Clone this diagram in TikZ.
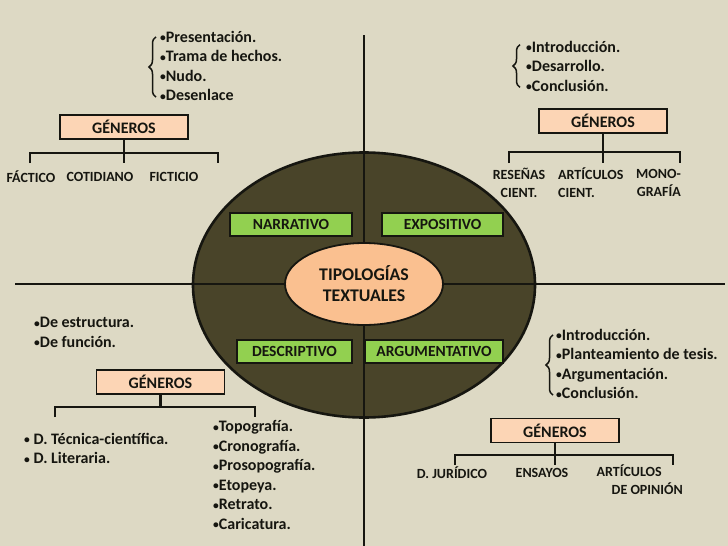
\documentclass[tikz,border=0pt]{standalone}
\usepackage{fontspec}
\setmainfont{Carlito}
\usetikzlibrary{shapes.geometric,decorations.pathreplacing}
\definecolor{bgtan}{RGB}{221,217,196}
\definecolor{darkolive}{RGB}{73,68,41}
\definecolor{peach}{RGB}{250,192,144}
\definecolor{lightpeach}{RGB}{252,213,181}
\definecolor{leafgreen}{RGB}{146,208,80}
\definecolor{inkdark}{RGB}{22,22,16}
\newcommand{\vin}{\raisebox{0.6pt}{\scalebox{0.72}{•}}}

\begin{document}
\begin{tikzpicture}[x=1pt, y=-1pt, every node/.style={text=inkdark},
  genbox/.style={draw=inkdark, fill=lightpeach, line width=1.2pt, minimum width=128pt, minimum height=24pt, inner sep=0pt, font=\bfseries\fontsize{16}{18}\selectfont},
  tipobox/.style={draw=inkdark, fill=leafgreen, line width=1.2pt, minimum height=23pt, inner sep=0pt, font=\bfseries\fontsize{15.5}{17}\selectfont},
  lista/.style={anchor=west, align=left, inner sep=0pt, font=\bfseries\fontsize{16}{19.5}\selectfont},
  hoja/.style={inner sep=0pt, font=\bfseries\fontsize{14}{18}\selectfont},
  rama/.style={line width=2.6pt, draw=inkdark},
  llave/.style={decorate, decoration={brace, amplitude=7pt}, line width=1.5pt, draw=inkdark},
  eje/.style={line width=2.2pt, draw=inkdark}]
  \fill[bgtan] (0,0) rectangle (728,546);
  \useasboundingbox (0,0) rectangle (728,546);

  % Disc and axes
  \node[ellipse, draw=inkdark, fill=darkolive, line width=2.6pt, minimum width=342pt, minimum height=265pt] (disco) at (364,285) {};
  \coordinate (norte) at (364,35);
  \coordinate (sur) at (364,546);
  \coordinate (oeste) at (15,284);
  \coordinate (este) at (725,284);
  \draw[eje] (norte) -- (sur);
  \draw[eje] (oeste) -- (este);
  \node[ellipse, draw=inkdark, fill=peach, line width=1.8pt, minimum width=158pt, minimum height=82pt, inner sep=0pt, align=center, font=\bfseries\fontsize{17.8}{21}\selectfont] (centro) at (364,284) {TIPOLOGÍAS\\TEXTUALES};

  % Types
  \node[tipobox, minimum width=122pt] (narr) at (291,224.5) {NARRATIVO};
  \node[tipobox, minimum width=121pt] (expo) at (442.5,224.5) {EXPOSITIVO};
  \node[tipobox, minimum width=115pt] (desc) at (294.5,351.5) {DESCRIPTIVO};
  \node[tipobox, minimum width=138pt] (argu) at (434,351.5) {ARGUMENTATIVO};

  % Narrativo
  \node[lista] (narrpartes) at (160,66) {\vin Presentación.\\\vin Trama de hechos.\\\vin Nudo.\\\vin Desenlace};
  \draw[llave] ([xshift=-4pt,yshift=4pt]narrpartes.south west) -- ([xshift=-4pt,yshift=-6pt]narrpartes.north west);
  \node[genbox] (gen1) at (124,127) {GÉNEROS};
  \node[hoja] (factico) at (31,177) {FÁCTICO};
  \node[hoja] (cotidiano) at (100,177) {COTIDIANO};
  \node[hoja] (ficticio) at (174,177) {FICTICIO};
  \coordinate (t1l) at (30,163);
  \coordinate (t1r) at (218,163);
  \coordinate (t1m) at (gen1.south |- t1l);
  \draw[rama] (t1l) -- ++(0,-10) -| (t1r);
  \draw[rama] (gen1.south) -- (t1m);

  % Expositivo
  \node[lista] (expopartes) at (526,66) {\vin Introducción.\\\vin Desarrollo.\\\vin Conclusión.};
  \draw[llave] ([xshift=-6pt,yshift=4pt]expopartes.south west) -- ([xshift=-6pt,yshift=-4pt]expopartes.north west);
  \node[genbox] (gen2) at (603,121) {GÉNEROS};
  \node[hoja, align=center] (resenas) at (519,183) {RESEÑAS\\CIENT.};
  \node[hoja, align=left, anchor=west] (articulos) at (558,183) {ARTÍCULOS\\CIENT.};
  \node[hoja, align=right, anchor=east] (monografia) at (681,183) {MONO-\\GRAFÍA};
  \coordinate (t2l) at (509,163);
  \coordinate (t2r) at (680,163);
  \coordinate (t2m) at (gen2.south |- t2l);
  \draw[rama] (t2l) -- ++(0,-11) -| (t2r);
  \draw[rama] (gen2.south) -- (t2m);

  % Descriptivo
  \node[lista] (descpartes) at (34,332.5) {\vin De estructura.\\\vin De función.};
  \node[genbox] (gen3) at (160.5,382) {GÉNEROS};
  \node[lista] (desctec) at (24,448.5) {\vin\ D. Técnica-científica.\\\vin\ D. Literaria.};
  \node[lista] (descfig) at (213,475) {\vin Topografía.\\\vin Cronografía.\\\vin Prosopografía.\\\vin Etopeya.\\\vin Retrato.\\\vin Caricatura.};
  \coordinate (t3l) at (55,417);
  \coordinate (t3r) at (255,417);
  \coordinate (t3m) at (gen3.south |- 0,407);
  \draw[rama] (t3l) -- ++(0,-10) -| (t3r);
  \draw[rama] (gen3.south) -- (t3m);

  % Argumentativo
  \node[lista] (argupartes) at (556,364) {\vin Introducción.\\\vin Planteamiento de tesis.\\\vin Argumentación.\\\vin Conclusión.};
  \draw[llave] ([xshift=-3pt,yshift=4pt]argupartes.south west) -- ([xshift=-3pt,yshift=-6pt]argupartes.north west);
  \node[genbox] (gen4) at (555,430.5) {GÉNEROS};
  \node[hoja] (juridico) at (452,473) {D. JURÍDICO};
  \node[hoja] (ensayos) at (542,473) {ENSAYOS};
  \node[hoja, align=right, anchor=north east] (opinion) at (683,465) {ARTÍCULOS\hspace*{21pt}\\DE OPINIÓN};
  \coordinate (t4l) at (455,465);
  \coordinate (t4r) at (673,465);
  \coordinate (t4m) at (gen4.south |- t4l);
  \draw[rama] (t4l) -- ++(0,-10) -| (t4r);
  \draw[rama] (gen4.south) -- (t4m);
\end{tikzpicture}
\end{document}
